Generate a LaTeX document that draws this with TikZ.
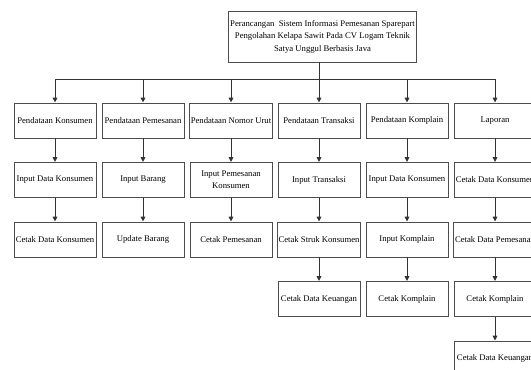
\documentclass[tikz,border=0pt]{standalone}
\usepackage{fontspec}
\setmainfont{Liberation Serif}
\usepackage{tikz}
\usetikzlibrary{arrows.meta,positioning}

\begin{document}
\begin{tikzpicture}[x=0.75pt,y=0.75pt,
    menu/.style={draw=black!70,line width=0.7pt,minimum width=61.5pt,minimum height=26.25pt,
        inner sep=1pt,align=center,font=\fontsize{6.5}{9.3}\selectfont},
    judul/.style={draw=black!70,line width=0.7pt,minimum width=137.25pt,minimum height=38.25pt,
        inner sep=1pt,align=center,font=\fontsize{6.5}{9.4}\selectfont},
    link/.style={draw=black!80,line width=0.7pt,-{Triangle[length=3.6pt,width=3.4pt]}}]
    \useasboundingbox (0,0) rectangle (531,-370);
    \clip (0,0) rectangle (531,-370);

    % Judul
    \node[judul] (top) at (322.5,-36.5) {Perancangan~ Sistem Informasi Pemesanan Sparepart\\
        Pengolahan Kelapa Sawit Pada CV Logam Teknik\\Satya Unggul Berbasis Java};
    \coordinate (bus) at (319,-79);

    % Menu utama
    \node[menu] (a1) at (55,-120.5) {Pendataan Konsumen};
    \node[menu] (a2) at (143,-120.5) {Pendataan Pemesanan};
    \node[menu] (a3) at (231,-120.5) {Pendataan Nomor Urut};
    \node[menu] (a4) at (319,-120.5) {Pendataan Transaksi};
    \node[menu] (a5) at (407,-120.5) {Pendataan Komplain};
    \node[menu] (a6) at (495,-120.5) {Laporan};

    % Sub menu
    \node[menu] (b1) at (55,-180) {Input Data Konsumen};
    \node[menu] (b2) at (143,-180) {Input Barang};
    \node[menu] (b3) at (231,-180) {Input Pemesanan\\Konsumen};
    \node[menu] (b4) at (319,-180) {Input Transaksi};
    \node[menu] (b5) at (407,-180) {Input Data Konsumen};
    \node[menu] (b6) at (495,-180) {Cetak Data Konsumen};

    \node[menu] (c1) at (55,-239.5) {Cetak Data Konsumen};
    \node[menu] (c2) at (143,-239.5) {Update Barang};
    \node[menu] (c3) at (231,-239.5) {Cetak Pemesanan};
    \node[menu] (c4) at (319,-239.5) {Cetak Struk Konsumen};
    \node[menu] (c5) at (407,-239.5) {Input Komplain};
    \node[menu] (c6) at (495,-239.5) {Cetak Data Pemesanan};

    \node[menu] (d4) at (319,-299) {Cetak Data Keuangan};
    \node[menu] (d5) at (407,-299) {Cetak Komplain};
    \node[menu] (d6) at (495,-299) {Cetak Komplain};

    \node[menu] (e6) at (495,-358.5) {Cetak Data Keuangan};

    % Garis penghubung
    \draw[draw=black!80,line width=0.7pt] (bus |- top.south) -- (bus);
    \draw[link] (bus) -| (a1.north);
    \draw[link] (bus) -| (a2.north);
    \draw[link] (bus) -| (a3.north);
    \draw[link] (bus) -- (a4.north);
    \draw[link] (bus) -| (a5.north);
    \draw[link] (bus) -| (a6.north);

    \draw[link] (a1) -- (b1);
    \draw[link] (a2) -- (b2);
    \draw[link] (a3) -- (b3);
    \draw[link] (a4) -- (b4);
    \draw[link] (a5) -- (b5);
    \draw[link] (a6) -- (b6);

    \draw[link] (b1) -- (c1);
    \draw[link] (b2) -- (c2);
    \draw[link] (b3) -- (c3);
    \draw[link] (b4) -- (c4);
    \draw[link] (b5) -- (c5);
    \draw[link] (b6) -- (c6);

    \draw[link] (c4) -- (d4);
    \draw[link] (c5) -- (d5);
    \draw[link] (c6) -- (d6);
    \draw[link] (d6) -- (e6);
\end{tikzpicture}
\end{document}
